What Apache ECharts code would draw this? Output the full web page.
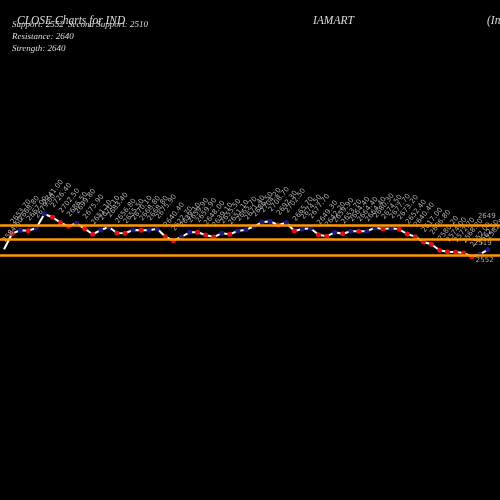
<!DOCTYPE html>
<html><head><meta charset="utf-8">
<script src="https://cdn.jsdelivr.net/npm/echarts@6/dist/echarts.min.js"></script>
<style>html,body{margin:0;padding:0;background:#000}#c{width:500px;height:500px}</style>
</head><body><div id="c"></div>
<script>
// Close prices
var closes = [2584.6,2653.7,2668.8,2667.0,2679.0,2741.0,2726.4,2702.5,2686.5,2699.8,
  2675.9,2651.1,2670.1,2683.4,2656.8,2655.5,2670.1,2668.8,2668.8,2675.9,
  2640.4,2622.7,2639.1,2659.9,2659.9,2648.0,2639.1,2655.5,2651.1,2665.7,
  2671.4,2686.5,2704.2,2708.7,2692.3,2702.5,2665.7,2674.5,2677.7,2649.3,
  2642.2,2659.9,2653.7,2664.4,2664.4,2664.4,2680.3,2674.5,2677.7,2673.2,
  2652.4,2640.4,2617.0,2606.8,2580.2,2574.0,2572.7,2568.2,2552.0,2562.5,2582.8];
// 1 = blue marker day, 0 = red marker day, -1 = no marker
var dayUp = [-1,0,1,0,1,1,0,0,0,1, 0,0,1,1,0,0,1,0,1,1, 0,0,1,1,0,0,0,1,0,1,
  1,1,1,1,0,1,0,1,1,0, 0,1,0,1,0,1,1,0,1,0, 0,0,0,0,0,0,0,0,0,1,1];
// horizontal level lines
var levels = [2692.3, 2630.3, 2559.4];
var headerLines = ["Support: 2552", "Second Support: 2510", "Resistance: 2640", "Strength: 2640"];
var endNotes = [{idx:60, text:"2649"}, {idx:59, text:"2519"}, {idx:58, text:"2552"}];

var chart = echarts.init(document.getElementById('c'), null, {renderer:'canvas'});
var data = closes.map(function(v,i){
  var c = dayUp[i]===1 ? '#1a1a8a' : (dayUp[i]===0 ? '#dd1111' : '#ffffff');
  return {value:[i, v], symbolSize: dayUp[i]===-1 ? 0 : 5, itemStyle:{color:c, borderWidth:0}};
});
var serif = '"Liberation Serif","DejaVu Serif",serif';
chart.setOption({
  backgroundColor:'#000',
  animation:false,
  grid:{left:0,right:0,top:0,bottom:0},
  xAxis:{type:'value',min:-0.5,max:61.5,show:false},
  yAxis:{type:'value',min:1474,max:3689,show:false},
  series:[{
    type:'line',
    data:data,
    symbol:'circle',
    lineStyle:{color:'#ffffff',width:2},
    label:{show:true,position:'top',distance:8,rotate:52,align:'left',verticalAlign:'middle',
      color:'#b0b0b0',fontSize:7,fontFamily:'"DejaVu Sans",sans-serif',
      formatter:function(p){return p.value[1].toFixed(2);}},
    markLine:{silent:true,symbol:'none',label:{show:false},
      lineStyle:{color:'#ff9900',width:2.5,type:'solid'},
      data:levels.map(function(l){return {yAxis:l};})},
    z:3
  }]
});
var g = [
  {type:'text',left:17,top:15,style:{text:'CLOSE Charts for IND',fill:'#dddddd',font:'italic 11.5px '+serif}},
  {type:'text',left:313,top:15,style:{text:'IAMART',fill:'#dddddd',font:'italic 11.5px '+serif}},
  {type:'text',left:487,top:15,style:{text:'(IndiaMart Intermesh Limited)',fill:'#dddddd',font:'italic 11.5px '+serif}},
  {type:'text',left:12,top:20,style:{text:headerLines[0],fill:'#dddddd',font:'italic 9px '+serif}},
  {type:'text',left:68,top:20,style:{text:headerLines[1],fill:'#dddddd',font:'italic 9px '+serif}},
  {type:'text',left:12,top:32,style:{text:headerLines[2],fill:'#dddddd',font:'italic 9px '+serif}},
  {type:'text',left:12,top:44,style:{text:headerLines[3],fill:'#dddddd',font:'italic 9px '+serif}}
];
var offs = {60:[-10,-37], 59:[-6,-15], 58:[4,0]};
endNotes.forEach(function(n){
  var p = chart.convertToPixel({gridIndex:0},[n.idx, closes[n.idx]]);
  var o = offs[n.idx];
  g.push({type:'text',x:p[0]+o[0],y:p[1]+o[1],style:{text:n.text,fill:'#aaaaaa',font:'7px "DejaVu Sans",sans-serif'}});
});
chart.setOption({graphic:g});
</script></body></html>
